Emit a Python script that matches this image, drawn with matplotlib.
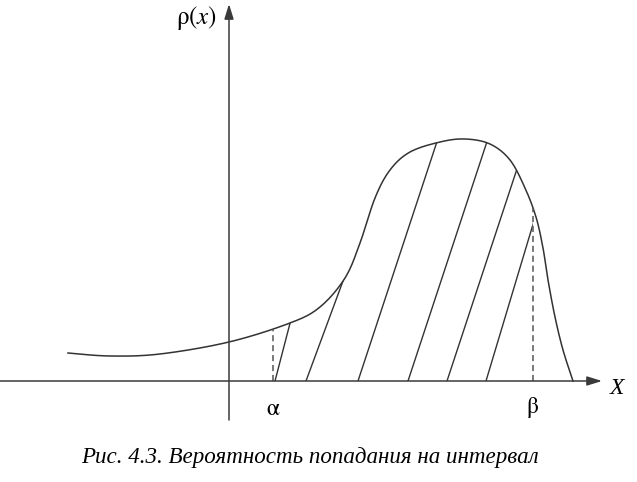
import numpy as np
import matplotlib.pyplot as plt
from matplotlib.patches import Polygon

# density curve (x along axis, y = height above axis)
curve_x = [-161, -119, -69, 0, 61, 91, 116, 131, 146, 161, 181, 211, 236, 261,
           281, 296, 307, 314, 319, 326, 334, 344]
curve_y = [28, 25, 27, 39, 58, 74, 103, 138, 183, 211, 229, 239, 242, 237,
           221, 193, 164, 133, 101, 64, 31, 0]

alpha = 44
beta = 304
hatch_base = [46, 77, 129, 179, 218, 257]
hatch_slope = [0.26, 0.37, 0.33, 0.33, 0.33, 0.30]

caption = "Рис. 4.3. Вероятность попадания на интервал"


def smooth(px, py, n=12):
    # catmull-rom through the read points
    p = np.column_stack([px, py]).astype(float)
    p = np.vstack([p[0], p, p[-1]])
    out = []
    t = np.linspace(0, 1, n, endpoint=False)
    for i in range(1, len(p) - 2):
        p0, p1, p2, p3 = p[i - 1], p[i], p[i + 1], p[i + 2]
        for s in t:
            out.append(0.5 * ((2 * p1) + (-p0 + p2) * s + (2 * p0 - 5 * p1 + 4 * p2 - p3) * s ** 2
                              + (-p0 + 3 * p1 - 3 * p2 + p3) * s ** 3))
    out.append(p[-2])
    out = np.array(out)
    return out[:, 0], out[:, 1]


sx, sy = smooth(curve_x, curve_y)

plt.rcParams['mathtext.fontset'] = 'stix'
fig = plt.figure(figsize=(6.37, 4.82), dpi=100)
ax = fig.add_axes([0, 0, 1, 1])
ax.set_xlim(-229, 408)
ax.set_ylim(-101, 381)
ax.axis('off')

axc = '#3a3a3a'
# axes with arrows
ax.annotate('', xy=(373, 0), xytext=(-229, 0),
            arrowprops=dict(arrowstyle='-|>,head_length=0.9,head_width=0.28', color=axc, lw=1.1,
                            shrinkA=0, shrinkB=0))
ax.annotate('', xy=(0, 377), xytext=(0, -39),
            arrowprops=dict(arrowstyle='-|>,head_length=0.9,head_width=0.28', color=axc, lw=1.1,
                            shrinkA=0, shrinkB=0))

ax.plot(sx, sy, color='#333333', lw=1.1)

# hatched area between alpha and beta
m = (sx >= alpha) & (sx <= beta)
poly = np.vstack([[alpha, 0], np.column_stack([sx[m], sy[m]]), [beta, 0]])
clip = Polygon(poly, closed=True, fc='none', ec='none')
ax.add_patch(clip)
for b, k in zip(hatch_base, hatch_slope):
    ln, = ax.plot([b, b + k * 300], [0, 300], color='#333333', lw=1.0)
    ln.set_clip_path(clip)

ya = np.interp(alpha, sx, sy)
yb = np.interp(beta, sx, sy)
ax.plot([alpha, alpha], [0, ya], color='#555555', lw=1.1, ls=(0, (4, 2.5)))
ax.plot([beta, beta], [0, yb], color='#555555', lw=1.1, ls=(0, (4, 2.5)))

ax.text(-12, 363, r'$\mathrm{\rho}(x)$', fontsize=18, ha='right', va='center')
ax.text(alpha, -27, r'$\mathrm{\alpha}$', fontsize=17, ha='center', va='center')
ax.text(beta, -27, r'$\mathrm{\beta}$', fontsize=17, ha='center', va='center')
ax.text(388, -7, 'X', fontsize=17, fontstyle='italic', family='Liberation Serif',
        ha='center', va='center')
ax.text(81, -76, caption, fontsize=16.6, fontstyle='italic', family='Liberation Serif',
        ha='center', va='center')

fig.savefig('out.png', dpi=100)
